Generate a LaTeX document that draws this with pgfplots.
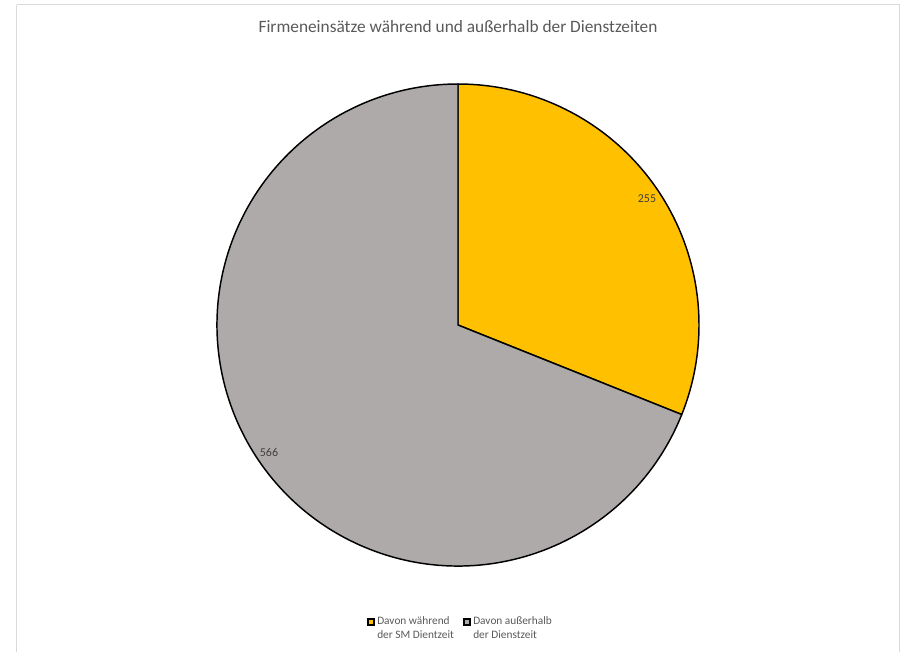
\documentclass[border=0pt]{standalone}
\usepackage{pgfplots}
\usepackage{pgfplotstable}
\pgfplotsset{compat=1.18}
\usepackage{fontspec}
\setmainfont{Carlito}
\definecolor{pieyellow}{HTML}{FFC000}
\definecolor{piegray}{HTML}{AEAAAA}
\definecolor{titlegray}{HTML}{595959}
\definecolor{labelgray}{HTML}{404040}
\definecolor{framegray}{HTML}{D9D9D9}
\pgfplotstableread{
idx value
0 255
1 566
}\piedata
\begin{document}
\begin{tikzpicture}
\pgfplotstablegetelem{0}{value}\of\piedata \let\va\pgfplotsretval
\pgfplotstablegetelem{1}{value}\of\piedata \let\vb\pgfplotsretval
\pgfmathsetmacro\frac{\va/(\va+\vb)}
\pgfmathsetmacro\angA{90-360*\frac}
\def\R{180.75pt}
\begin{axis}[at={(0,0)}, anchor=south west, scale only axis,
  width=677.25pt, height=488.25pt,
  xmin=0, xmax=903, ymin=0, ymax=651, y dir=reverse,
  hide axis, clip=false]
\draw[framegray, line width=1pt] (axis cs:16.5,4.5) -- (axis cs:899.5,4.5) -- (axis cs:899.5,670);
\draw[framegray, line width=1pt] (axis cs:16.5,4.5) -- (axis cs:16.5,670);
\filldraw[fill=pieyellow, draw=black, line width=1.1pt, line join=round]
  (axis cs:458,325) -- ++(90:\R) arc[start angle=90, end angle=\angA, radius=\R] -- cycle;
\filldraw[fill=piegray, draw=black, line width=1.1pt, line join=round]
  (axis cs:458,325) -- ++(\angA:\R) arc[start angle=\angA, end angle=-270, radius=\R] -- cycle;
\node[text=titlegray, font=\fontsize{13}{15}\selectfont] at (axis cs:458,27) {Firmeneinsätze während und außerhalb der Dienstzeiten};
\node[text=labelgray, font=\fontsize{9}{11}\selectfont] at (axis cs:647,199) {\va};
\node[text=labelgray, font=\fontsize{9}{11}\selectfont] at (axis cs:269,452) {\vb};
\filldraw[fill=pieyellow, draw=black, line width=0.8pt] (axis cs:368,619) rectangle (axis cs:374,625);
\filldraw[fill=piegray, draw=black, line width=0.8pt] (axis cs:464,619) rectangle (axis cs:470,625);
\node[text=titlegray, font=\fontsize{8.5}{10.5}\selectfont, anchor=north west, align=left, inner sep=0pt] at (axis cs:377,616) {Davon während\\der SM Dientzeit};
\node[text=titlegray, font=\fontsize{8.5}{10.5}\selectfont, anchor=north west, align=left, inner sep=0pt] at (axis cs:473,616) {Davon außerhalb\\der Dienstzeit};
\end{axis}
\pgfresetboundingbox
\path[use as bounding box] (0,0) rectangle (677.25pt,488.25pt);
\end{tikzpicture}
\end{document}
